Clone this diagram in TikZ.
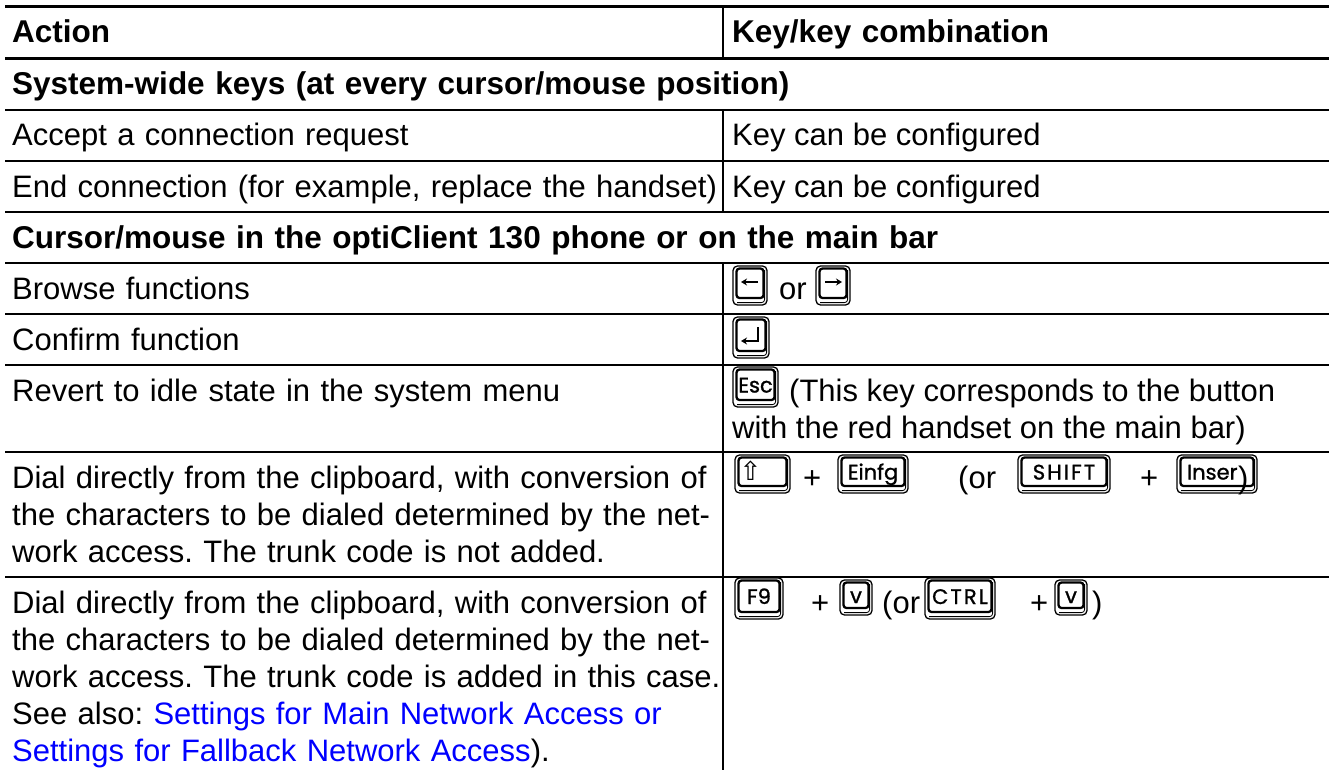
\documentclass[tikz,border=0pt]{standalone}
\usepackage{fontspec}
\setmainfont{Liberation Sans}
\newfontfamily\keyfont{Poppins}[FakeBold=1.2]
\newfontfamily\symfont{DejaVu Sans}
\usetikzlibrary{arrows.meta}
\definecolor{linkblue}{RGB}{0,0,255}
\frenchspacing

% keycap: name, left x, top y, width, height, label
\newcommand\keycap[6]{%
  \draw[keyouter] (#2,#3) rectangle (#2+#4,#3+#5);
  \draw[keyshadow] (#2+4,#3+#5-2.4) -- (#2+#4-2.4,#3+#5-2.4) -- (#2+#4-2.4,#3+4);
  \draw[keyinner] (#2+3.5,#3+2.5) rectangle (#2+#4-3.5,#3+#5-7);
  \node[keylabel] (#1) at (#2+#4/2,#3+#5/2+5.5) {#6};
}

\tikzset{
  cell/.style={anchor=base west, inner sep=0pt, text width=1000pt, align=left,
    font=\fontsize{31}{37}\selectfont},
  rcell/.style={anchor=base west, inner sep=0pt, font=\fontsize{31}{37}\selectfont},
  head/.style={cell, font=\fontsize{31.5}{37}\selectfont\bfseries},
  rule/.style={line width=1.5pt},
  thickrule/.style={line width=3pt},
  keyouter/.style={line width=1.3pt, rounded corners=4.5pt},
  keyshadow/.style={line width=0.8pt, rounded corners=3pt},
  keyinner/.style={line width=2.3pt, rounded corners=3pt},
  keylabel/.style={anchor=base, inner sep=0pt, font=\keyfont\fontsize{21}{21}\selectfont},
  glyph/.style={line width=1.8pt, -{Stealth[length=6pt,width=7pt]}},
}

\begin{document}
\begin{tikzpicture}[x=1pt,y={(0pt,-1pt)}]
\useasboundingbox (0,0) rectangle (1329,770);

% ---- rules ----
\draw[thickrule] (5,7) -- (1329,7);
\draw[thickrule] (5,59) -- (1329,59);
\foreach \yy in {110,161,212,263,314,365,452,577}
  \draw[rule] (5,\yy) -- (1329,\yy);
\draw[rule] (723,7) -- (723,59);
\draw[rule] (723,110) -- (723,212);
\draw[rule] (723,263) -- (723,770);

% ---- header ----
\node[head] (hAction) at (12,43) {Action};
\node[head] (hKey) at (732,43) {Key/key combination};

% ---- system-wide keys ----
\node[head] (sec1) at (12,95) {System-wide keys (at every cursor/mouse position)};
\node[cell] (a1) at (12,146) {Accept a connection request};
\node[rcell] (k1) at (732,146) {Key can be configured};
\node[cell] (a2) at (12,197) {End connection (for example, replace the handset)};
\node[rcell] (k2) at (732,197) {Key can be configured};

% ---- phone / main bar ----
\node[head] (sec2) at (12,248) {Cursor/mouse in the optiClient 130 phone or on the main bar};

\node[cell] (a3) at (12,299) {Browse functions};
\keycap{kLeft}{733}{266}{34}{39}{}
\draw[glyph] ([xshift=8pt,yshift=9pt]kLeft.center) -- ([xshift=-9pt,yshift=9pt]kLeft.center);
\node[rcell] (or1) at (779,299) {or};
\keycap{kRight}{816}{266}{34}{39}{}
\draw[glyph] ([xshift=-8pt,yshift=9pt]kRight.center) -- ([xshift=9pt,yshift=9pt]kRight.center);

\node[cell] (a4) at (12,350) {Confirm function};
\keycap{kEnter}{733}{317}{36}{41}{}
\draw[glyph] ([shift={(7pt,16pt)}]kEnter.center) -- ([shift={(7pt,2pt)}]kEnter.center)
  -- ([shift={(-10pt,2pt)}]kEnter.center);

\node[cell] (a5) at (12,401) {Revert to idle state in the system menu};
\keycap{kEsc}{733}{367}{45}{40}{Esc}
\node[rcell] (k5a) at (789,401) {(This key corresponds to the button};
\node[rcell] (k5b) at (732,438) {with the red handset on the main bar)};

\node[cell] (a6) at (12,488) {Dial directly from the clipboard, with conversion of\\
  the characters to be dialed determined by the net-\\
  work access. The trunk code is not added.};
\keycap{kShift}{735}{455}{55}{38}{}
\node[keylabel, font=\symfont\fontsize{26}{26}\selectfont, anchor=base west] (kShiftGlyph)
  at ([xshift=-23pt,yshift=-1pt]kShift.base) {⇧};
\node[rcell] (p1) at (803,488) {+};
\keycap{kEinfg}{838}{455}{70}{38}{Einfg}
\node[rcell] (or2) at (958,488) {(or};
\keycap{kSHIFT}{1018}{455}{92}{38}{\addfontfeature{LetterSpace=10}SHIFT}
\node[rcell] (p2) at (1140,488) {+};
\keycap{kInser}{1177}{455}{80}{38}{Inser\phantom{)}}
\node[rcell] (cl1) at (1238,488) {)};

\node[cell] (a7) at (12,613) {Dial directly from the clipboard, with conversion of\\
  the characters to be dialed determined by the net-\\
  work access. The trunk code is added in this case.\\
  See also: \textcolor{linkblue}{Settings for Main Network Access or}\\
  \textcolor{linkblue}{Settings for Fallback Network Access}).};
\keycap{kF}{735}{578}{48}{41}{F9}
\node[rcell] (p3) at (811,613) {+};
\keycap{kV}{840}{580}{32}{35}{v}
\node[rcell] (or3) at (882,613) {(or};
\keycap{kCTRL}{925}{578}{70}{41}{\addfontfeature{LetterSpace=10}CTRL}
\node[rcell] (p4) at (1030,613) {+};
\keycap{kV2}{1055}{580}{32}{35}{v}
\node[rcell] (cl2) at (1092,613) {)};
\end{tikzpicture}
\end{document}
